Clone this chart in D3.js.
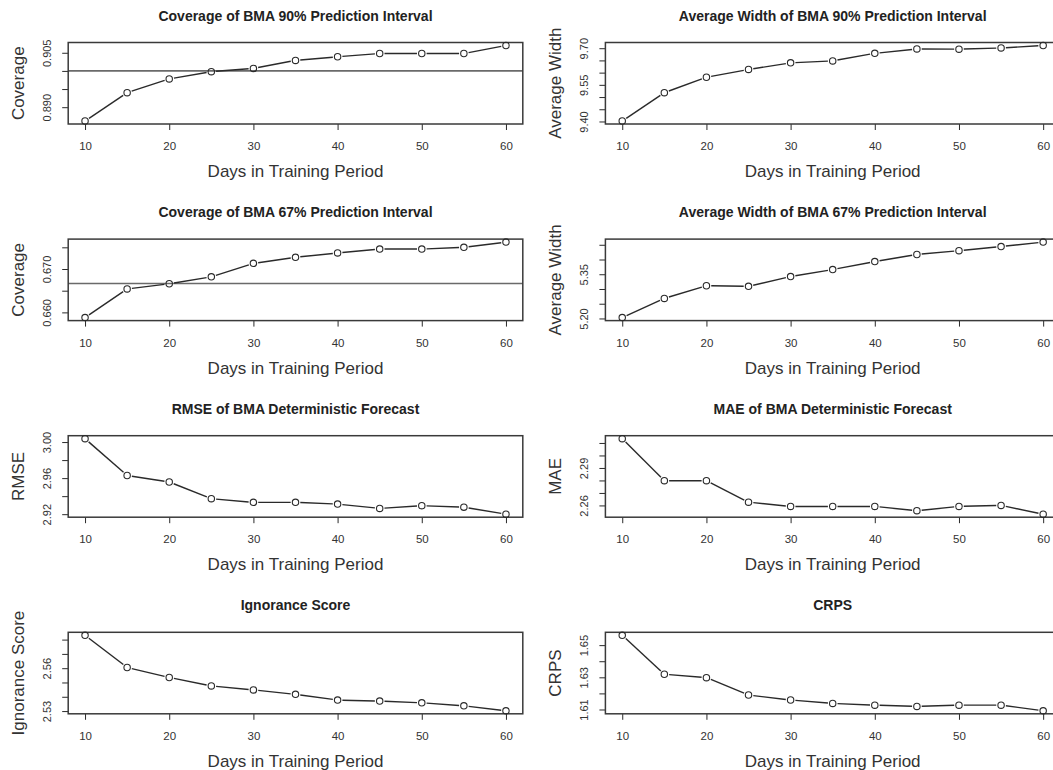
<!DOCTYPE html>
<html>
<head>
<meta charset="utf-8">
<script src="https://cdn.jsdelivr.net/npm/d3@7"></script>
<style>
  html, body { margin: 0; padding: 0; background: #fff; overflow: hidden; }
  svg { display: block; }
  text { font-family: "Liberation Sans", Arial, Helvetica, sans-serif; fill: #222; }
</style>
</head>
<body>
<svg id="chart" width="1053" height="770"></svg>
<script>
// Training period lengths (days) on the shared x axis
const days = [10, 15, 20, 25, 30, 35, 40, 45, 50, 55, 60];
const dayTicks = [10, 20, 30, 40, 50, 60];

// Verification scores by training period length
const coverage90 = [0.8862, 0.8940, 0.8978, 0.8998, 0.9007, 0.9029, 0.9039, 0.9048, 0.9048, 0.9048, 0.9070];
const width90    = [9.402, 9.518, 9.581, 9.613, 9.640, 9.648, 9.679, 9.697, 9.696, 9.701, 9.711];
const coverage67 = [0.6588, 0.6654, 0.6666, 0.6682, 0.6713, 0.6727, 0.6737, 0.6746, 0.6746, 0.6750, 0.6762];
const width67    = [5.203, 5.268, 5.311, 5.309, 5.342, 5.366, 5.393, 5.417, 5.430, 5.444, 5.459];
const rmse       = [3.0037, 2.9629, 2.9557, 2.9372, 2.9331, 2.9331, 2.9312, 2.9264, 2.9294, 2.9278, 2.9200];
const mae        = [2.3134, 2.2798, 2.2798, 2.2626, 2.2592, 2.2592, 2.2592, 2.2558, 2.2592, 2.2600, 2.2530];
const ignorance  = [2.5830, 2.5605, 2.5535, 2.5476, 2.5448, 2.5417, 2.5377, 2.5370, 2.5358, 2.5337, 2.5302];
const crps       = [1.6561, 1.6319, 1.6298, 1.6190, 1.6159, 1.6138, 1.6127, 1.6119, 1.6127, 1.6127, 1.6092];

// Nominal coverage levels drawn as reference lines
const nominal90 = 0.90;
const nominal67 = 2 / 3;

// y tick positions and the labels shown at them ("" = unlabeled tick)
const coverage90Ticks = [0.890, 0.895, 0.900, 0.905];
const coverage90Labels = ["0.890", "", "", "0.905"];
const width90Ticks = [9.40, 9.45, 9.50, 9.55, 9.60, 9.65, 9.70];
const width90Labels = ["9.40", "", "", "9.55", "", "", "9.70"];
const coverage67Ticks = [0.660, 0.665, 0.670, 0.675];
const coverage67Labels = ["0.660", "", "0.670", ""];
const width67Ticks = [5.20, 5.25, 5.30, 5.35, 5.40, 5.45];
const width67Labels = ["5.20", "", "", "5.35", "", ""];
const rmseTicks = [2.92, 2.94, 2.96, 2.98, 3.00];
const rmseLabels = ["2.92", "", "2.96", "", "3.00"];
const maeTicks = [2.26, 2.27, 2.28, 2.29, 2.30, 2.31];
const maeLabels = ["2.26", "", "", "2.29", "", ""];
const ignoranceTicks = [2.53, 2.54, 2.55, 2.56, 2.57, 2.58];
const ignoranceLabels = ["2.53", "", "", "2.56", "", ""];
const crpsTicks = [1.61, 1.62, 1.63, 1.64, 1.65];
const crpsLabels = ["1.61", "", "1.63", "", "1.65"];

const xTitle = "Days in Training Period";

const panels = [
  { title: "Coverage of BMA 90% Prediction Interval", ylab: "Coverage", values: coverage90, ticks: coverage90Ticks, labels: coverage90Labels, ref: nominal90 },
  { title: "Average Width of BMA 90% Prediction Interval", ylab: "Average Width", values: width90, ticks: width90Ticks, labels: width90Labels },
  { title: "Coverage of BMA 67% Prediction Interval", ylab: "Coverage", values: coverage67, ticks: coverage67Ticks, labels: coverage67Labels, ref: nominal67 },
  { title: "Average Width of BMA 67% Prediction Interval", ylab: "Average Width", values: width67, ticks: width67Ticks, labels: width67Labels },
  { title: "RMSE of BMA Deterministic Forecast", ylab: "RMSE", values: rmse, ticks: rmseTicks, labels: rmseLabels },
  { title: "MAE of BMA Deterministic Forecast", ylab: "MAE", values: mae, ticks: maeTicks, labels: maeLabels },
  { title: "Ignorance Score", ylab: "Ignorance Score", values: ignorance, ticks: ignoranceTicks, labels: ignoranceLabels },
  { title: "CRPS", ylab: "CRPS", values: crps, ticks: crpsTicks, labels: crpsLabels }
];

// Layout of the 4 x 2 grid of plot regions
const colLeft = [68.2, 605.4];
const rowTop0 = 42.5, rowPitch = 196.6;
const boxW = 454.6, boxH = 81.5;

// Extend a range by 4% on each side, as base graphics does
function padExtent(vals) {
  const [lo, hi] = d3.extent(vals);
  const p = (hi - lo) * 0.04;
  return [lo - p, hi + p];
}

const svg = d3.select("#chart");
const ink = "#2a2a2a";

panels.forEach((pn, i) => {
  const left = colLeft[i % 2];
  const top = rowTop0 + Math.floor(i / 2) * rowPitch;
  const x = d3.scaleLinear().domain(padExtent(days)).range([left, left + boxW]);
  const y = d3.scaleLinear().domain(padExtent(pn.values)).range([top + boxH, top]);
  const g = svg.append("g");

  // reference line at nominal coverage
  if (pn.ref !== undefined) {
    g.append("line")
      .attr("x1", left).attr("x2", left + boxW)
      .attr("y1", y(pn.ref)).attr("y2", y(pn.ref))
      .attr("stroke", "#6a6a6a").attr("stroke-width", 1.6);
  }

  // x axis
  const xa = g.append("g")
    .attr("transform", `translate(0,${top + boxH})`)
    .call(d3.axisBottom(x).tickValues(dayTicks).tickSize(6).tickSizeOuter(0));
  xa.select(".domain").remove();
  xa.selectAll("line").attr("stroke", ink).attr("stroke-width", 1);
  xa.selectAll("text")
    .attr("y", 22).attr("dy", "0.35em")
    .style("font-size", "11.5px").style("fill", "#333");

  // y axis
  const labelOf = new Map(pn.ticks.map((t, k) => [t, pn.labels[k]]));
  const ya = g.append("g")
    .attr("transform", `translate(${left},0)`)
    .call(d3.axisLeft(y).tickValues(pn.ticks).tickSize(6).tickSizeOuter(0)
      .tickFormat(d => labelOf.get(d)));
  ya.select(".domain").remove();
  ya.selectAll("line").attr("stroke", ink).attr("stroke-width", 1);
  ya.selectAll("text")
    .attr("x", null).attr("dy", null)
    .attr("transform", "translate(-21,0) rotate(-90)")
    .attr("text-anchor", "middle")
    .attr("dominant-baseline", "central")
    .style("font-size", "11px").style("fill", "#333");

  // plot box
  g.append("rect")
    .attr("x", left).attr("y", top)
    .attr("width", boxW).attr("height", boxH)
    .attr("fill", "none").attr("stroke", "#3a3a3a").attr("stroke-width", 1.5);

  // connecting segments with gaps around the points
  const pts = days.map((d, k) => [x(d), y(pn.values[k])]);
  const gap = 4.8;
  for (let k = 0; k < pts.length - 1; k++) {
    const [x0, y0] = pts[k], [x1, y1] = pts[k + 1];
    const len = Math.hypot(x1 - x0, y1 - y0);
    if (len <= 2 * gap) continue;
    const ux = (x1 - x0) / len, uy = (y1 - y0) / len;
    g.append("line")
      .attr("x1", x0 + ux * gap).attr("y1", y0 + uy * gap)
      .attr("x2", x1 - ux * gap).attr("y2", y1 - uy * gap)
      .attr("stroke", ink).attr("stroke-width", 1.4);
  }

  // open circle markers
  g.selectAll("circle.pt").data(pn.values).join("circle")
    .attr("class", "pt")
    .attr("cx", (v, k) => x(days[k]))
    .attr("cy", v => y(v))
    .attr("r", 3.2)
    .attr("fill", "none").attr("stroke", ink).attr("stroke-width", 1.1);

  // titles
  g.append("text")
    .attr("x", left + boxW / 2).attr("y", top - 27)
    .attr("text-anchor", "middle").attr("dominant-baseline", "central")
    .style("font-size", "14px").style("font-weight", "bold")
    .text(pn.title);

  g.append("text")
    .attr("x", left + boxW / 2).attr("y", top + boxH + 53)
    .attr("text-anchor", "middle")
    .style("font-size", "17px").style("fill", "#333")
    .text(xTitle);

  g.append("text")
    .attr("transform", `translate(${left - 49.5},${top + boxH / 2}) rotate(-90)`)
    .attr("text-anchor", "middle").attr("dominant-baseline", "central")
    .style("font-size", "17px").style("fill", "#333")
    .text(pn.ylab);
});
</script>
</body>
</html>
